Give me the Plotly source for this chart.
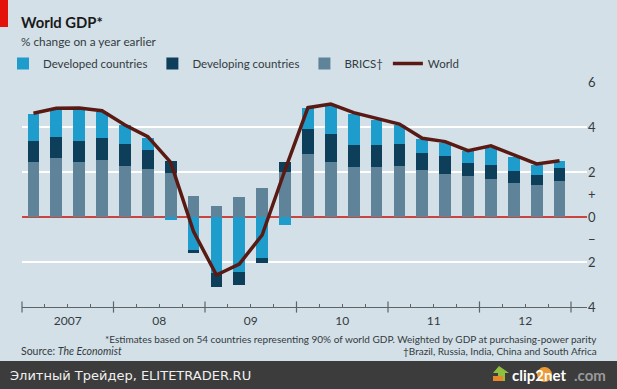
import plotly.graph_objects as go

quarters = list(range(24))
brics = [2.43,2.64,2.46,2.52,2.27,2.13,1.94,0.95,0.50,0.90,1.27,1.98,2.79,2.43,2.21,2.24,2.27,2.07,1.90,1.81,1.70,1.50,1.41,1.58]
developing_up = [0.95,0.90,0.93,0.98,0.96,0.83,0.56,0,0,0,0,0.45,1.11,1.26,0.97,0.94,0.97,0.79,0.83,0.60,0.63,0.56,0.44,0.61]
developing_down = [0,0,0,0,0,0,0,-0.13,-0.62,-0.57,-0.22,0,0,0,0,0,0,0,0,0,0,0,0,0]
developed = [1.22,1.30,1.45,1.15,0.86,0.56,-0.15,-1.47,-2.50,-2.43,-1.84,-0.36,0.96,1.24,1.38,1.13,0.85,0.61,0.54,0.54,0.72,0.62,0.46,0.28]
world = [4.61,4.83,4.84,4.72,4.09,3.57,2.43,-0.65,-2.58,-2.09,-0.80,2.10,4.86,5.02,4.64,4.38,4.13,3.50,3.35,2.95,3.16,2.76,2.36,2.50]

year_labels = ["2007","08","09","10","11","12"]
year_centres = [1.5,5.5,9.5,13.5,17.5,21.5]
year_edges = [-0.5,3.5,7.5,11.5,15.5,19.5,23.5]
right_vals = [6,4,2,1,0,-1,-2,-4]
right_text = ["6","4","2","+","0","−","2","4"]
grid_vals = [-4,-2,0,2,4,6]

BG = "#d3e0e8"
FONT = "Lato, 'Noto Sans', sans-serif"
W, H = 617, 389
BLUE, NAVY, GREY = "#1e9ccb", "#0d3f5a", "#5f8398"

def px(x): return x / W
def py(y): return 1 - y / H

fig = go.Figure()
fig.add_bar(x=quarters, y=brics, name="BRICS†", marker=dict(color=GREY, line_width=0), width=0.51, legendrank=3)
fig.add_bar(x=quarters, y=developing_up, name="Developing countries", marker=dict(color=NAVY, line_width=0),
            width=0.51, legendrank=2, legendgroup="dev")
fig.add_bar(x=quarters, y=developed, name="Developed countries", marker=dict(color=BLUE, line_width=0), width=0.51, legendrank=1)
fig.add_bar(x=quarters, y=developing_down, name="Developing countries", marker=dict(color=NAVY, line_width=0),
            width=0.51, showlegend=False, legendgroup="dev")
fig.add_scatter(x=quarters, y=world, name="World", mode="lines",
                line=dict(color="#5a1a14", width=3.5), legendrank=4)
fig.add_scatter(x=year_edges, y=[-4]*len(year_edges), yaxis="y2", mode="markers",
                marker=dict(symbol="line-ns", size=8, line=dict(color="#5d6468", width=1.2)),
                showlegend=False, hoverinfo="skip", cliponaxis=False)

shapes = [
    dict(type="rect", xref="paper", yref="paper", x0=0, x1=px(8), y0=py(27), y1=1,
         fillcolor="#e3120b", line_width=0, layer="above"),
    dict(type="rect", xref="paper", yref="paper", x0=0, x1=1, y0=0, y1=py(361),
         fillcolor="#3c3c3c", line_width=0, layer="above"),
    dict(type="path", xref="paper", yref="paper", layer="above",
         path=f"M {px(499)} {py(366)} L {px(509)} {py(373)} L {px(505)} {py(373)} L {px(505)} {py(381)} L {px(498)} {py(381)} L {px(498)} {py(373)} L {px(493)} {py(373)} Z",
         fillcolor="#8fbf3f", line_width=0),
    dict(type="rect", xref="paper", yref="paper", x0=px(493), x1=px(503), y0=py(381), y1=py(376),
         fillcolor="#e8862a", line_width=0, layer="above"),
    dict(type="circle", xref="paper", yref="paper", x0=px(537), x1=px(552), y0=py(382), y1=py(367),
         fillcolor="#eb9a35", line_width=0, layer="above"),
]

def note(text, x, y, size, color="#333b40", anchor="left", **kw):
    return dict(text=text, x=px(x), y=py(y), xref="paper", yref="paper", showarrow=False,
                xanchor=anchor, yanchor="middle", xshift=0, borderpad=0, borderwidth=0,
                font=dict(size=size, color=color, family=kw.pop("family", FONT)), **kw)

annotations = [
    note("<b>World GDP*</b>", 21, 22, 14.8, "#1a1a1a"),
    note("% change on a year earlier", 21, 41, 11.8),
    note("*Estimates based on 54 countries representing 90% of world GDP. Weighted by GDP at purchasing-power parity", 597, 339, 10, anchor="right"),
    note("†Brazil, Russia, India, China and South Africa", 597, 351, 10, anchor="right"),
    note("Source: <i>The Economist</i>", 21, 351, 10.5),
    note("Элитный Трейдер, ELITETRADER.RU", 10, 375, 13, "#f0f0f0", family="'DejaVu Sans', sans-serif"),
    note("<b>clip2net</b>", 512, 375, 15, "#ffffff"),
    note("<b>.com</b>", 574, 375, 15, "#9a9a9a"),
]

fig.update_layout(
    width=W, height=H, margin=dict(l=0, r=0, t=0, b=0, autoexpand=False), autosize=False,
    paper_bgcolor=BG, plot_bgcolor=BG, barmode="relative", bargap=0,
    font=dict(family=FONT, size=12, color="#333b40"),
    showlegend=True,
    legend=dict(orientation="h", x=px(3), y=py(49), xanchor="left", yanchor="top",
                bgcolor="rgba(0,0,0,0)", font=dict(size=11.5, color="#333b40"),
                itemwidth=30, tracegroupgap=0),
    xaxis=dict(domain=[px(22), px(587)], range=[-0.5, 24.2], tickmode="array",
               tickvals=year_centres, ticktext=year_labels, ticks="inside", ticklen=3,
               tickcolor="#5d6468", tickfont=dict(size=12, color="#333b40"), ticklabelstandoff=2,
               minor=dict(tick0=0.5, dtick=2, ticks="inside", ticklen=3, tickcolor="#5d6468", showgrid=False),
               showgrid=False, zeroline=False, showline=True, linecolor="#5d6468", linewidth=1.2,
               anchor="y", fixedrange=True),
    yaxis=dict(domain=[py(307), py(82)], range=[-4, 6], tickmode="array", tickvals=grid_vals,
               showticklabels=False, ticks="", showgrid=True, gridcolor="#ffffff", gridwidth=1.5,
               zeroline=True, zerolinecolor="#c9453f", zerolinewidth=1.5, fixedrange=True),
    yaxis2=dict(overlaying="y", side="right", anchor="x", range=[-4, 6], tickmode="array",
                tickvals=right_vals, ticktext=right_text, ticks="", showgrid=False, zeroline=False,
                showline=False, tickfont=dict(size=13, color="#333b40"), fixedrange=True),
    shapes=shapes, annotations=annotations,
)

fig.write_html("out.html", config=dict(displayModeBar=False),
               post_script="document.body.style.margin='0';document.body.style.overflow='hidden';")
